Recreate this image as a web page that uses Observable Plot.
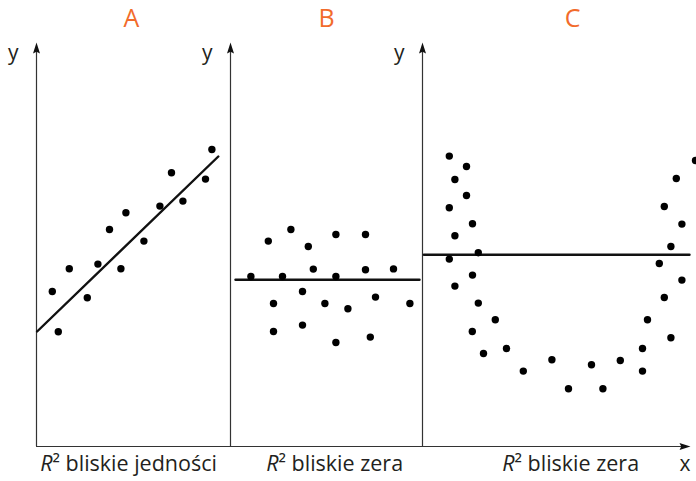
<!DOCTYPE html>
<html>
<head>
<meta charset="utf-8">
<script src="https://cdn.jsdelivr.net/npm/d3@7"></script>
<script src="https://cdn.jsdelivr.net/npm/@observablehq/plot@0.6"></script>
<style>
  body { margin: 0; background: #fff; }
  #chart { position: relative; width: 696px; height: 481px; font-family: "Open Sans", sans-serif; }
  #chart svg { position: absolute; top: 0; }
</style>
</head>
<body>
<div id="chart"></div>
<script>
// Panel titles and captions
const titles = ["A", "B", "C"];
const captions = ["bliskie jedności", "bliskie zera", "bliskie zera"];
const yLabel = "y";
const xLabel = "x";

// A: strong linear relation
const aX = [0.79, 1.09, 1.64, 2.54, 3.07, 3.65, 4.22, 4.47, 5.37, 6.17, 6.75, 7.32, 8.45, 8.77];
const aY = [7.75, 5.74, 8.89, 7.44, 9.12, 10.85, 8.89, 11.69, 10.27, 12.02, 13.69, 12.27, 13.37, 14.85];
const aFitX = [0.03, 9.09];
const aFitY = [5.75, 14.5];

// B: no relation, flat fit
const bX = [1.89, 3.02, 3.89, 5.27, 6.75, 1.02, 2.6, 4.14, 5.27, 6.75, 8.15, 2.15, 3.6, 4.72, 5.87, 7.25, 8.97, 2.15, 3.6, 5.27, 6.99];
const bY = [10.27, 10.85, 10.0, 10.6, 10.6, 8.5, 8.5, 8.87, 8.5, 8.84, 8.88, 7.15, 7.75, 7.15, 6.89, 7.47, 7.15, 5.75, 6.07, 5.2, 5.47];
const bFitX = [0.25, 9.45];
const bFitY = [8.34, 8.34];

// C: U-shaped relation, flat linear fit
const cX = [1.34, 2.2, 1.62, 2.2, 1.34, 2.5, 1.62, 2.79, 1.34, 2.5, 1.62, 2.79, 3.64, 2.49, 3.05, 4.2, 5.04, 6.47, 7.3, 8.45, 9.02, 9.89, 11.0, 11.0, 11.25, 12.42, 12.09, 11.84, 12.97, 12.42, 12.97, 12.09, 12.69, 13.65];
const cY = [14.52, 14.0, 13.35, 12.55, 11.94, 11.14, 10.54, 9.69, 9.37, 8.57, 8.02, 7.17, 6.34, 5.75, 4.65, 4.9, 3.77, 4.34, 2.89, 4.09, 2.89, 4.3, 4.9, 3.77, 6.34, 5.44, 7.45, 9.15, 8.32, 10.0, 11.12, 12.0, 13.4, 14.3];
const cFitX = [0.07, 13.35];
const cFitY = [9.59, 9.59];

// shared vertical extent of every panel
const Y_TOP = 20.2;
const AXIS = "#333";
const INK = "#111";
const TEXT = "#231f20";
const ORANGE = "#f26b2b";

// filled arrowheads, tip at the symbol origin
const arrowUp = {
  draw(ctx, size) {
    const r = Math.sqrt(size / Math.PI);
    ctx.moveTo(0, 0);
    ctx.lineTo(0.7 * r, 2.2 * r);
    ctx.lineTo(0, 1.85 * r);
    ctx.lineTo(-0.7 * r, 2.2 * r);
    ctx.closePath();
  }
};
const arrowRight = {
  draw(ctx, size) {
    const r = Math.sqrt(size / Math.PI);
    ctx.moveTo(0, 0);
    ctx.lineTo(-2.2 * r, 0.7 * r);
    ctx.lineTo(-1.85 * r, 0);
    ctx.lineTo(-2.2 * r, -0.7 * r);
    ctx.closePath();
  }
};

const zip = (xs, ys) => xs.map((x, i) => ({x, y: ys[i]}));

function panel(o) {
  const marks = [
    // y axis with arrow
    Plot.ruleX([0], {y1: 0, y2: Y_TOP - 0.4, stroke: AXIS, strokeWidth: 1.2}),
    Plot.dot([{x: 0, y: Y_TOP}], {x: "x", y: "y", symbol: arrowUp, r: 5, fill: INK, stroke: "none"}),
    // x axis segment
    Plot.ruleY([0], {x1: 0, x2: o.arrow ? o.xMax - 0.4 : o.xMax, stroke: AXIS, strokeWidth: 1.2}),
    // fitted line and observations
    Plot.line(zip(o.fitX, o.fitY), {x: "x", y: "y", stroke: INK, strokeWidth: 2.4}),
    Plot.dot(zip(o.xs, o.ys), {x: "x", y: "y", r: 3.7, fill: "#000", stroke: "none"}),
    // texts
    Plot.text([o.title], {text: d => d, frameAnchor: "top", dx: o.titleDx, dy: -33, fontSize: 25, fill: ORANGE}),
    Plot.text([yLabel], {text: d => d, frameAnchor: "top-left", textAnchor: "end", dx: -18, dy: 3, fontSize: 21, fill: TEXT}),
    Plot.text(["R"], {text: d => d, frameAnchor: "bottom-left", textAnchor: "end", dx: o.capDx, dy: 24, fontSize: 21.5, fontStyle: "italic", fill: TEXT}),
    Plot.text(["² " + o.caption], {text: d => d, frameAnchor: "bottom-left", textAnchor: "start", dx: o.capDx, dy: 24, fontSize: 21.5, fill: TEXT})
  ];
  if (o.arrow) {
    marks.push(Plot.dot([{x: o.xMax, y: 0}], {x: "x", y: "y", symbol: arrowRight, r: 5, fill: INK, stroke: "none"}));
    marks.push(Plot.text([xLabel], {text: d => d, frameAnchor: "bottom-right", textAnchor: "end", dy: 24, fontSize: 21, fill: TEXT}));
  }
  const svg = Plot.plot({
    width: o.width,
    height: 481,
    marginLeft: o.marginLeft,
    marginRight: o.marginRight,
    marginTop: 42,
    marginBottom: 35,
    x: {domain: [0, o.xMax], axis: null},
    y: {domain: [0, Y_TOP], axis: null},
    style: {background: "transparent", fontFamily: "'Open Sans', sans-serif", overflow: "visible"},
    marks
  });
  svg.style.left = o.left + "px";
  return svg;
}

const chart = document.getElementById("chart");
chart.append(
  panel({title: titles[0], caption: captions[0], xs: aX, ys: aY, fitX: aFitX, fitY: aFitY,
         left: 0, width: 230, marginLeft: 36, marginRight: 0, xMax: 9.7, titleDx: -2, capDx: 16}),
  panel({title: titles[1], caption: captions[1], xs: bX, ys: bY, fitX: bFitX, fitY: bFitY,
         left: 190, width: 232, marginLeft: 40, marginRight: 0, xMax: 9.6, titleDx: 0, capDx: 48}),
  panel({title: titles[2], caption: captions[2], xs: cX, ys: cY, fitX: cFitX, fitY: cFitY,
         left: 382, width: 314, marginLeft: 40, marginRight: 6, xMax: 13.4, titleDx: 16, capDx: 92, arrow: true})
);
</script>
</body>
</html>
